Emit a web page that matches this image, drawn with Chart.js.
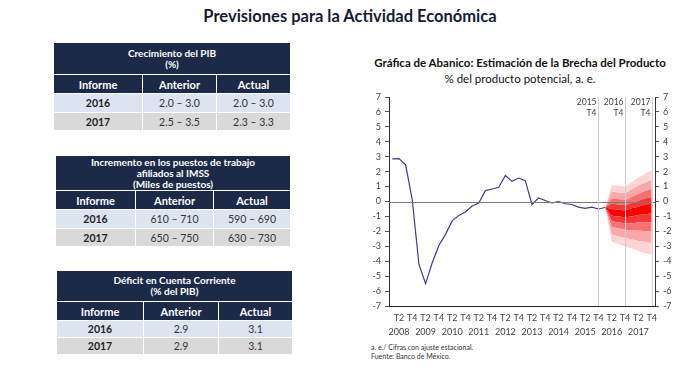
<!DOCTYPE html>
<html>
<head>
<meta charset="utf-8">
<script src="https://cdn.jsdelivr.net/npm/chart.js@4/dist/chart.umd.min.js"></script>
<style>
  body { margin: 0; background: #fff; font-family: Lato, "Open Sans", sans-serif; }
  #page { position: relative; width: 700px; height: 370px; overflow: hidden; }
  .title { position: absolute; left: 0; width: 700px; top: 6px; text-align: center; font-size: 16.5px; font-weight: bold; color: #161b35; }
  table.tb { position: absolute; border-collapse: collapse; table-layout: fixed; }
  table.tb td { border: 1px solid #fff; text-align: center; padding: 0; color: #333; font-size: 10.5px; }
  table.tb td.hd { background: #1c2947; color: #fff; font-weight: bold; font-size: 11px; }
  table.tb td.tt { background: #1c2947; color: #fff; font-weight: bold; font-size: 10px; line-height: 11px; }
  table.tb tr.r1 td { background: #dce4f1; }
  table.tb tr.r2 td { background: #d9d9d9; }
  table.tb td.yr { font-weight: bold; color: #222; }
  .ctitle { position: absolute; left: 360px; width: 320px; text-align: center; color: #111; }
  .note { position: absolute; left: 371px; font-size: 7px; color: #333; }
  #wrap { position: absolute; left: 355px; top: 85px; width: 330px; height: 255px; }
</style>
</head>
<body>
<div id="page">
  <div class="title">Previsiones para la Actividad Económica</div>

  <table class="tb" style="left:53px; top:42px; width:237px;">
    <colgroup><col style="width:89px"><col style="width:74px"><col style="width:74px"></colgroup>
    <tr style="height:32px"><td class="tt" colspan="3">Crecimiento del PIB<br>(%)</td></tr>
    <tr style="height:19px"><td class="hd">Informe</td><td class="hd">Anterior</td><td class="hd">Actual</td></tr>
    <tr class="r1" style="height:19px"><td class="yr">2016</td><td>2.0 – 3.0</td><td>2.0 – 3.0</td></tr>
    <tr class="r2" style="height:18px"><td class="yr">2017</td><td>2.5 – 3.5</td><td>2.3 – 3.3</td></tr>
  </table>

  <table class="tb" style="left:55px; top:155px; width:235px;">
    <colgroup><col style="width:80px"><col style="width:78px"><col style="width:77px"></colgroup>
    <tr style="height:35px"><td class="tt" colspan="3">Incremento en los puestos de trabajo<br>afiliados al IMSS<br>(Miles de puestos)</td></tr>
    <tr style="height:19px"><td class="hd">Informe</td><td class="hd">Anterior</td><td class="hd">Actual</td></tr>
    <tr class="r1" style="height:19px"><td class="yr">2016</td><td>610 – 710</td><td>590 – 690</td></tr>
    <tr class="r2" style="height:18px"><td class="yr">2017</td><td>650 – 750</td><td>630 – 730</td></tr>
  </table>

  <table class="tb" style="left:56px; top:270px; width:236px;">
    <colgroup><col style="width:87px"><col style="width:75px"><col style="width:74px"></colgroup>
    <tr style="height:31px"><td class="tt" colspan="3">Déficit en Cuenta Corriente<br>(% del PIB)</td></tr>
    <tr style="height:19px"><td class="hd">Informe</td><td class="hd">Anterior</td><td class="hd">Actual</td></tr>
    <tr class="r1" style="height:17px"><td class="yr">2016</td><td>2.9</td><td>3.1</td></tr>
    <tr class="r2" style="height:17px"><td class="yr">2017</td><td>2.9</td><td>3.1</td></tr>
  </table>

  <div class="ctitle" style="top:56px; font-size:11.5px; font-weight:bold;">Gráfica de Abanico: Estimación de la Brecha del Producto</div>
  <div class="ctitle" style="top:72px; font-size:11.5px;">% del producto potencial, a. e.</div>

  <div id="wrap"><canvas id="fan" width="330" height="255"></canvas></div>

  <div class="note" style="top:343px;">a. e./ Cifras con ajuste estacional.</div>
  <div class="note" style="top:352px;">Fuente: Banco de México.</div>
</div>

<script>
// categories
var years = ['2008', '2009', '2010', '2011', '2012', '2013', '2014', '2015', '2016', '2017'];
var quarterNames = ['T1', 'T2', 'T3', 'T4'];
var labels = [];
for (var y = 0; y < years.length; y++) {
    for (var q = 0; q < quarterNames.length; q++) {
        labels.push(years[y] + ' ' + quarterNames[q]);
    }
}

// observed output gap, 2008 T1 - 2016 T1
var brecha = [2.85, 2.87, 2.45, 0.1, -4.2, -5.5, -4.1, -2.95, -2.2, -1.3,
              -0.93, -0.7, -0.3, -0.1, 0.73, 0.84, 0.95, 1.74, 1.35, 1.57,
              1.4, -0.2, 0.24, 0.07, -0.1, 0.0, -0.15, -0.2, -0.38, -0.46,
              -0.38, -0.5, -0.4];

// fan chart bounds, 2016 T1 - 2017 T4 (outer to inner)
var fanStart = 32;
var low1 = [-0.4, -2.7, -2.85, -3.0, -3.15, -3.3, -3.45, -3.55];
var low2 = [-0.4, -2.2, -2.35, -2.45, -2.55, -2.65, -2.7, -2.8];
var low3 = [-0.4, -1.7, -1.8, -1.9, -1.95, -1.95, -2.0, -2.0];
var low4 = [-0.4, -1.3, -1.4, -1.45, -1.45, -1.4, -1.4, -1.4];
var low5 = [-0.4, -0.95, -1.0, -1.05, -1.0, -0.9, -0.85, -0.8];
var up5 = [-0.4, -0.5, -0.55, -0.6, -0.45, -0.35, -0.2, -0.15];
var up4 = [-0.4, -0.15, -0.2, -0.25, -0.1, 0.05, 0.2, 0.3];
var up3 = [-0.4, 0.2, 0.15, 0.1, 0.3, 0.5, 0.7, 0.85];
var up2 = [-0.4, 0.65, 0.6, 0.55, 0.8, 1.05, 1.25, 1.45];
var up1 = [-0.4, 1.1, 1.05, 1.0, 1.3, 1.6, 1.85, 2.1];

// marked quarters
var markers = ['2015 T4', '2016 T4', '2017 T4'];

var bandColors = ['#fcd4d4', '#f8a8a8', '#f57272', '#f33636', '#ff0000'];

function fanData(arr) {
    return arr.map(function(v, k) { return { x: labels[fanStart + k], y: v }; });
}

function band(arr, color) {
    return {
        data: fanData(arr),
        borderWidth: 0,
        pointRadius: 0,
        backgroundColor: color,
        fill: color ? '-1' : false
    };
}

var dataSets = [{
    data: brecha,
    borderColor: '#3d3d8a',
    borderWidth: 1.2,
    pointRadius: 0,
    fill: false,
    tension: 0
}];
dataSets.push(band(low1, null));
dataSets.push(band(low2, bandColors[0]));
dataSets.push(band(low3, bandColors[1]));
dataSets.push(band(low4, bandColors[2]));
dataSets.push(band(low5, bandColors[3]));
dataSets.push(band(up5, bandColors[4]));
dataSets.push(band(up4, bandColors[3]));
dataSets.push(band(up3, bandColors[2]));
dataSets.push(band(up2, bandColors[1]));
dataSets.push(band(up1, bandColors[0]));

var overlay = {
    id: 'overlay',
    afterDatasetsDraw: function(chart) {
        var ctx = chart.ctx, a = chart.chartArea;
        var xs = chart.scales.x, ys = chart.scales.y;
        ctx.save();
        // zero line
        var y0 = Math.round(ys.getPixelForValue(0)) + 0.5;
        ctx.strokeStyle = '#7a7a7a';
        ctx.lineWidth = 1;
        ctx.beginPath();
        ctx.moveTo(a.left, y0);
        ctx.lineTo(a.right, y0);
        ctx.stroke();
        // marker lines
        ctx.font = '8.5px Lato';
        ctx.fillStyle = '#444';
        ctx.textAlign = 'right';
        ctx.textBaseline = 'middle';
        markers.forEach(function(m) {
            var px = Math.round(xs.getPixelForValue(labels.indexOf(m))) + 0.5;
            ctx.strokeStyle = '#cfcfcf';
            ctx.beginPath();
            ctx.moveTo(px, a.top);
            ctx.lineTo(px, a.bottom);
            ctx.stroke();
            var parts = m.split(' ');
            ctx.fillText(parts[0], px - 2, a.top + 5);
            ctx.fillText(parts[1], px - 2, a.top + 16);
        });
        ctx.restore();
    }
};

var yTicks = {
    min: -7, max: 7,
    ticks: { stepSize: 1, color: '#444', font: { size: 9, family: 'Lato' }, padding: 4 },
    grid: { drawOnChartArea: false, tickLength: 4, tickColor: '#555' },
    border: { color: '#333' }
};

var ctxL = document.getElementById('fan').getContext('2d');
var fanChart = new Chart(ctxL, {
    type: 'line',
    data: { labels: labels, datasets: dataSets },
    plugins: [overlay],
    options: {
        responsive: false,
        animation: false,
        layout: { padding: { top: 12, left: 0, right: 0, bottom: 0 } },
        plugins: { legend: { display: false }, tooltip: { enabled: false } },
        scales: {
            x: {
                offset: true,
                grid: { display: false, tickLength: 0 },
                border: { color: '#222' },
                ticks: {
                    autoSkip: false, maxRotation: 0, padding: 5,
                    color: '#444', font: { size: 9, family: 'Lato', lineHeight: 1.55 },
                    callback: function(val) {
                        var parts = this.getLabelForValue(val).split(' ');
                        if (parts[1] === 'T2') return ['T2', parts[0]];
                        if (parts[1] === 'T4') return ['T4', ''];
                        return '';
                    }
                },
                afterFit: function(s) { s.height = 34; }
            },
            y: Object.assign({ position: 'left', afterFit: function(s) { s.width = 34; } }, yTicks),
            y2: Object.assign({ position: 'right', afterFit: function(s) { s.width = 30; } }, yTicks)
        }
    }
});
</script>
</body>
</html>
